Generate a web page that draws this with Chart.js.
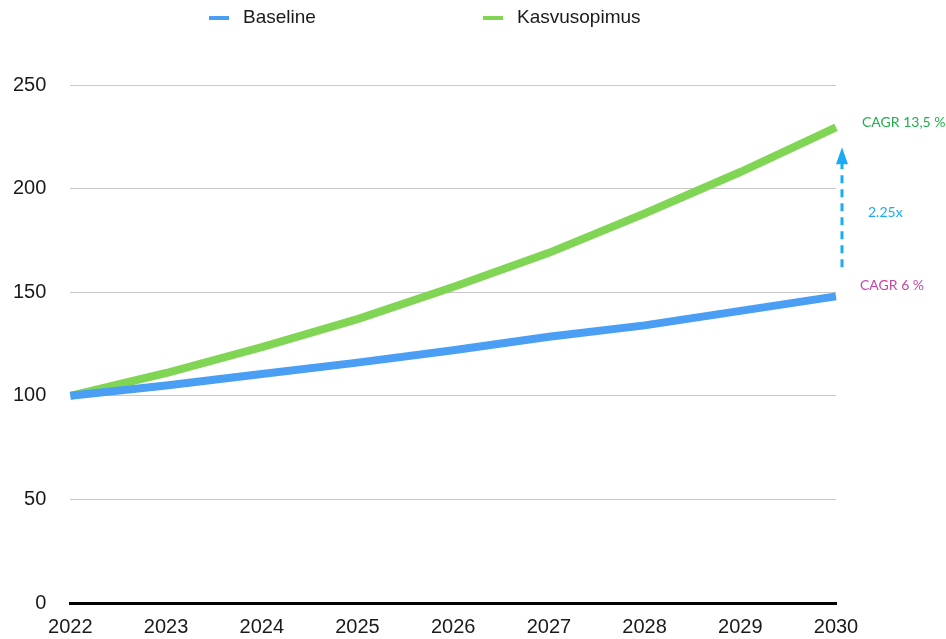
<!DOCTYPE html>
<html>
<head>
<meta charset="utf-8">
<script src="https://cdn.jsdelivr.net/npm/chart.js@4.4.1/dist/chart.umd.min.js"></script>
<style>
  html, body { margin: 0; padding: 0; background: #fff; }
  #wrap { width: 946px; height: 639px; }
</style>
</head>
<body>
<div id="wrap"><canvas id="chart"></canvas></div>
<script>
var years = ['2022', '2023', '2024', '2025', '2026', '2027', '2028', '2029', '2030'];
var baseline = [100, 105, 110.5, 116, 122, 128.5, 134, 141, 148];
var kasvusopimus = [100, 111, 123.5, 137, 152.5, 169, 188, 208, 229.5];
var yTicks = [0, 50, 100, 150, 200, 250];
var seriesNames = ['Baseline', 'Kasvusopimus'];
var seriesColors = ['#4a9ff5', '#80d654'];

// notes next to the last year
var noteTexts = ['CAGR 13,5 %', '2.25x', 'CAGR 6 %'];
var noteValues = [232, 188.5, 153];
var noteColors = ['#1fae4b', '#1aabf5', '#c646a8'];
var arrowFrom = 162;
var arrowTo = 220;

var FONT = '"Liberation Sans", Arial, Helvetica, sans-serif';

var legendPlugin = {
  id: 'topLegend',
  afterDraw: function (chart) {
    var ctx = chart.ctx;
    var starts = [209, 483];
    ctx.save();
    ctx.font = '19px ' + FONT;
    ctx.textBaseline = 'middle';
    chart.data.datasets.forEach(function (ds, i) {
      ctx.fillStyle = ds.borderColor;
      ctx.fillRect(starts[i], 16, 20, 4);
      ctx.fillStyle = '#1a1a1a';
      ctx.fillText(ds.label, starts[i] + 34, 18);
    });
    ctx.restore();
  }
};

var notesPlugin = {
  id: 'notes',
  afterDatasetsDraw: function (chart) {
    var ctx = chart.ctx;
    var x = chart.scales.x.getPixelForValue(years.length - 1);
    var y = chart.scales.y;
    ctx.save();

    // dashed arrow between the two end points
    var ax = x + 6;
    var top = y.getPixelForValue(arrowTo);
    var bottom = y.getPixelForValue(arrowFrom);
    ctx.strokeStyle = noteColors[1];
    ctx.fillStyle = noteColors[1];
    ctx.lineWidth = 3;
    ctx.setLineDash([8, 6]);
    ctx.beginPath();
    ctx.moveTo(ax, bottom);
    ctx.lineTo(ax, top + 14);
    ctx.stroke();
    ctx.setLineDash([]);
    ctx.beginPath();
    ctx.moveTo(ax, top);
    ctx.lineTo(ax - 6, top + 17);
    ctx.lineTo(ax + 6, top + 17);
    ctx.closePath();
    ctx.fill();

    ctx.font = '14px Lato, "Open Sans", sans-serif';
    ctx.textBaseline = 'middle';
    var offsets = [26, 32, 24];
    noteTexts.forEach(function (t, i) {
      ctx.fillStyle = noteColors[i];
      ctx.fillText(t, x + offsets[i], y.getPixelForValue(noteValues[i]));
    });
    ctx.restore();
  }
};

new Chart(document.getElementById('chart'), {
  type: 'line',
  data: {
    labels: years,
    datasets: [
      { label: seriesNames[0], data: baseline, borderColor: seriesColors[0], backgroundColor: seriesColors[0] },
      { label: seriesNames[1], data: kasvusopimus, borderColor: seriesColors[1], backgroundColor: seriesColors[1] }
    ]
  },
  options: {
    responsive: true,
    maintainAspectRatio: false,
    animation: false,
    layout: { padding: { top: 85, left: -11, right: 110, bottom: 0 } },
    elements: {
      line: { borderWidth: 8, tension: 0, borderCapStyle: 'butt' },
      point: { radius: 0 }
    },
    plugins: {
      legend: { display: false },
      tooltip: { enabled: false }
    },
    scales: {
      x: {
        grid: { display: false, drawTicks: false },
        border: { display: true, color: '#000', width: 3 },
        ticks: { color: '#1a1a1a', padding: 12, maxRotation: 0, font: { family: FONT, size: 20 } },
        afterFit: function (scale) { scale.height = 33; }
      },
      y: {
        min: 0,
        max: 250,
        afterBuildTicks: function (axis) {
          axis.ticks = yTicks.map(function (v) { return { value: v }; });
        },
        grid: {
          drawTicks: false,
          color: function (c) { return c.tick && c.tick.value === 0 ? 'rgba(0,0,0,0)' : '#c8c8c8'; }
        },
        border: { display: false },
        ticks: { color: '#1a1a1a', padding: 24, font: { family: FONT, size: 20 } }
      }
    }
  },
  plugins: [legendPlugin, notesPlugin]
});
</script>
</body>
</html>
